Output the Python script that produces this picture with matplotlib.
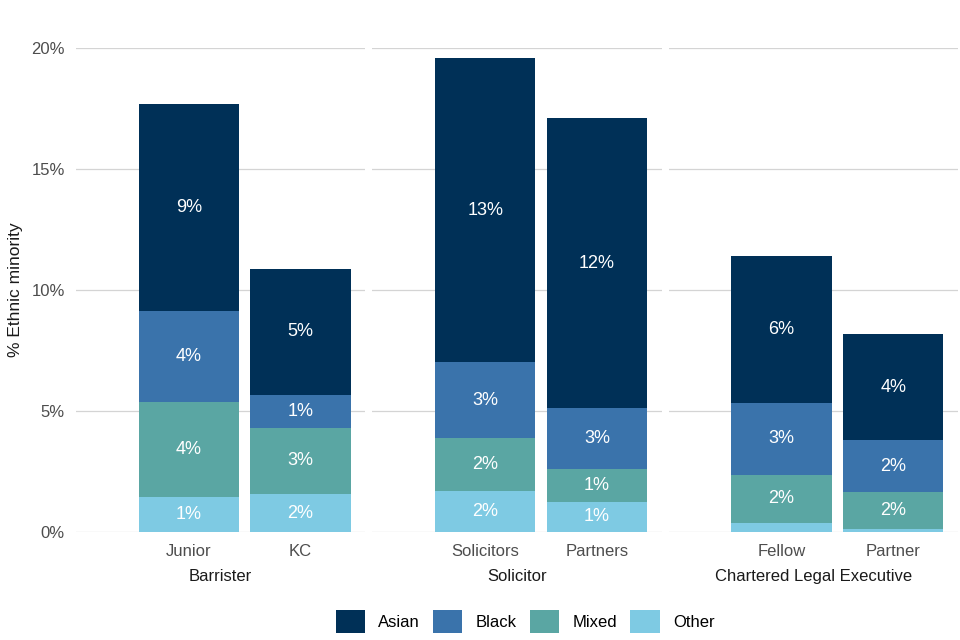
import matplotlib.pyplot as plt
from matplotlib.patches import Patch
import numpy as np

plt.rcParams['font.family'] = ['Liberation Sans', 'DejaVu Sans']

#Data (percent of each group)
groups = ['Barrister', 'Solicitor', 'Chartered Legal Executive']
roles = [['Junior', 'KC'], ['Solicitors', 'Partners'], ['Fellow', 'Partner']]
ethnicities = ['Asian', 'Black', 'Mixed', 'Other']
colours = ['#003057', '#3a73ab', '#5aa6a3', '#7ecae3']

other = [[1.45, 1.57], [1.69, 1.24], [0.37, 0.12]]
mixed = [[3.92, 2.73], [2.19, 1.36], [1.99, 1.53]]
black = [[3.76, 1.36], [3.14, 2.52], [2.97, 2.15]]
asian = [[8.56, 5.21], [12.57, 11.99], [6.07, 4.38]]

fig = plt.figure(figsize=(9.6, 6.4), dpi=100)
gs = fig.add_gridspec(1, 3, left=76/960, right=958/960, bottom=1-532/640, top=1-48/640, wspace=0.024)

for g in range(3):
    ax = fig.add_subplot(gs[0, g])
    x = np.arange(2)
    bottom = np.zeros(2)
    # stack from bottom: Other, Mixed, Black, Asian
    stack = [(other[g], colours[3]), (mixed[g], colours[2]), (black[g], colours[1]), (asian[g], colours[0])]
    for vals, col in stack:
        vals = np.array(vals)
        ax.bar(x, vals, bottom=bottom, width=0.9, color=col, zorder=2)
        for i in range(2):
            if vals[i] >= 0.5:
                ax.text(x[i], bottom[i] + vals[i] / 2, f"{int(np.floor(vals[i] + 0.5))}%",
                        ha='center', va='center', color='white', fontsize=13, zorder=3)
        bottom = bottom + vals

    ax.set_xlim(-1.01, 1.58)
    ax.set_ylim(0, 20)
    ax.set_yticks([0, 5, 10, 15, 20])
    ax.grid(axis='y', color='#d4d4d4', linewidth=0.9, zorder=0)
    ax.set_axisbelow(True)
    for s in ax.spines.values():
        s.set_visible(False)
    ax.tick_params(length=0)
    ax.set_xticks(x)
    ax.set_xticklabels(roles[g], fontsize=12, color='#4d4d4d')
    ax.tick_params(axis='x', pad=9)
    ax.set_xlabel(groups[g], fontsize=12, color='#1a1a1a', labelpad=7)
    if g == 0:
        ax.set_yticklabels(['0%', '5%', '10%', '15%', '20%'], fontsize=12, color='#4d4d4d')
        ax.tick_params(axis='y', pad=8)
        ax.set_ylabel('% Ethnic minority', fontsize=12.5, color='#1a1a1a', labelpad=6)
    else:
        ax.set_yticklabels([])

handles = [Patch(facecolor=c, label=e) for e, c in zip(ethnicities, colours)]
fig.legend(handles=handles, loc='lower center', ncol=4, frameon=False, fontsize=12,
           bbox_to_anchor=(0.547, -0.012), handlelength=1.75, handleheight=1.75,
           handletextpad=0.8, columnspacing=0.8)

plt.savefig('out.png', dpi=100)
